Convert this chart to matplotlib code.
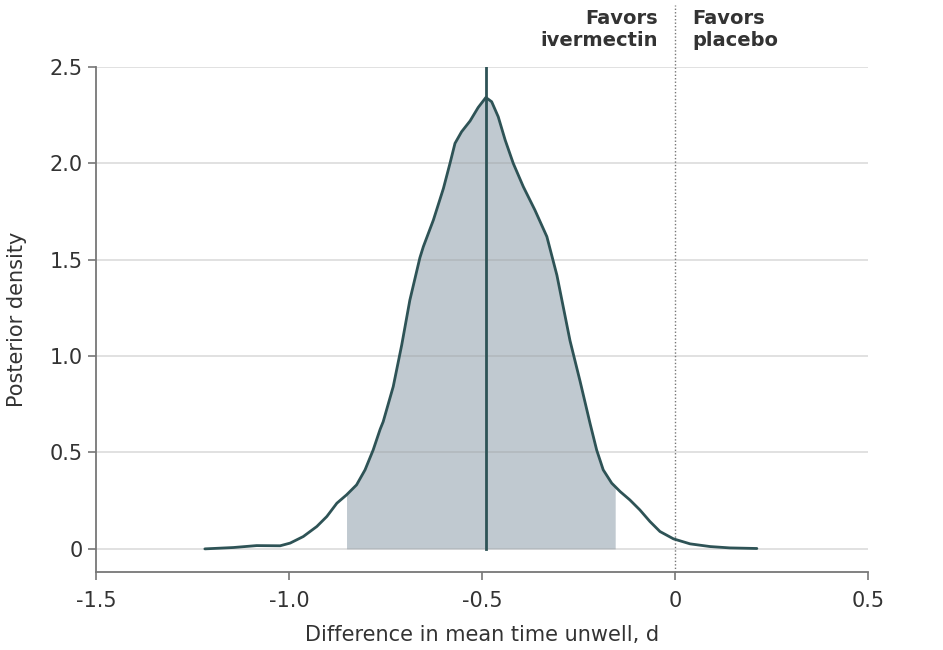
import numpy as np
import matplotlib
matplotlib.use("Agg")
import matplotlib.pyplot as plt

plt.rcParams['font.family'] = ['DejaVu Sans']

# posterior density curve
d = np.array([-1.218, -1.144, -1.084, -1.023, -0.997, -0.963, -0.928, -0.902,
              -0.876, -0.851, -0.825, -0.803, -0.782, -0.764, -0.756, -0.730,
              -0.708, -0.687, -0.661, -0.652, -0.626, -0.600, -0.583, -0.570,
              -0.553, -0.531, -0.510, -0.490, -0.475, -0.458, -0.440, -0.419,
              -0.393, -0.363, -0.332, -0.306, -0.272, -0.246, -0.220, -0.203,
              -0.186, -0.164, -0.155, -0.142, -0.117, -0.091, -0.065, -0.039,
              -0.004, 0.039, 0.091, 0.142, 0.212])
dens = np.array([0.0, 0.007, 0.017, 0.016, 0.03, 0.064, 0.116, 0.168,
                 0.237, 0.280, 0.332, 0.41, 0.513, 0.62, 0.66, 0.842,
                 1.058, 1.29, 1.51, 1.568, 1.706, 1.87, 2.0, 2.104,
                 2.164, 2.22, 2.29, 2.342, 2.32, 2.242, 2.121, 2.0,
                 1.879, 1.758, 1.62, 1.42, 1.08, 0.87, 0.65, 0.513,
                 0.41, 0.341, 0.323, 0.297, 0.254, 0.202, 0.142, 0.090,
                 0.052, 0.026, 0.012, 0.005, 0.002])

ci_lo, ci_hi = -0.851, -0.155
median = -0.49

xticks = [-1.5, -1.0, -0.5, 0, 0.5]
xticklabels = ['-1.5', '-1.0', '-0.5', '0', '0.5']
yticks = [0, 0.5, 1.0, 1.5, 2.0, 2.5]
yticklabels = ['0', '0.5', '1.0', '1.5', '2.0', '2.5']

line_col = '#2e5356'
fill_col = '#c0c9d0'

fig = plt.figure(figsize=(9.43, 6.5), dpi=100)
ax = fig.add_axes([0.1018, 0.12, 0.8187, 0.7769])

for yv in yticks:
    ax.axhline(yv, color='#999999', alpha=0.35, lw=1.2, zorder=2)

mask = (d >= ci_lo) & (d <= ci_hi)
ax.fill_between(d[mask], 0, dens[mask], color=fill_col, lw=0, zorder=1)
ax.plot(d, dens, color=line_col, lw=2.0, solid_capstyle='round',
        solid_joinstyle='round', zorder=3)
ax.plot([median, median], [0, 2.5], color=line_col, lw=2.0, zorder=3)

# no-difference line runs up past the axes
ax.plot([0, 0], [-0.12, 2.82], color='#777777', lw=1.0, ls=(0, (1, 1.5)),
        clip_on=False, zorder=2)

ax.text(-0.045, 2.80, 'Favors\nivermectin', ha='right', va='top',
        fontsize=14, fontweight='bold', color='#333333', linespacing=1.2)
ax.text(0.045, 2.80, 'Favors\nplacebo', ha='left', va='top',
        fontsize=14, fontweight='bold', color='#333333', linespacing=1.2)

ax.set_xlim(-1.5, 0.5)
ax.set_ylim(-0.12, 2.5)
ax.set_xticks(xticks)
ax.set_xticklabels(xticklabels)
ax.set_yticks(yticks)
ax.set_yticklabels(yticklabels)
ax.tick_params(labelsize=15, colors='#333333', length=6, width=1.2,
               color='#777777')
ax.tick_params(axis='x', pad=8)

for s in ['top', 'right']:
    ax.spines[s].set_visible(False)
for s in ['left', 'bottom']:
    ax.spines[s].set_color('#777777')
    ax.spines[s].set_linewidth(1.3)

ax.set_xlabel('Difference in mean time unwell, d', fontsize=15,
              color='#333333', labelpad=10)
ax.set_ylabel('Posterior density', fontsize=15, color='#333333', labelpad=16)

fig.savefig('out.png', dpi=100, facecolor='white')
